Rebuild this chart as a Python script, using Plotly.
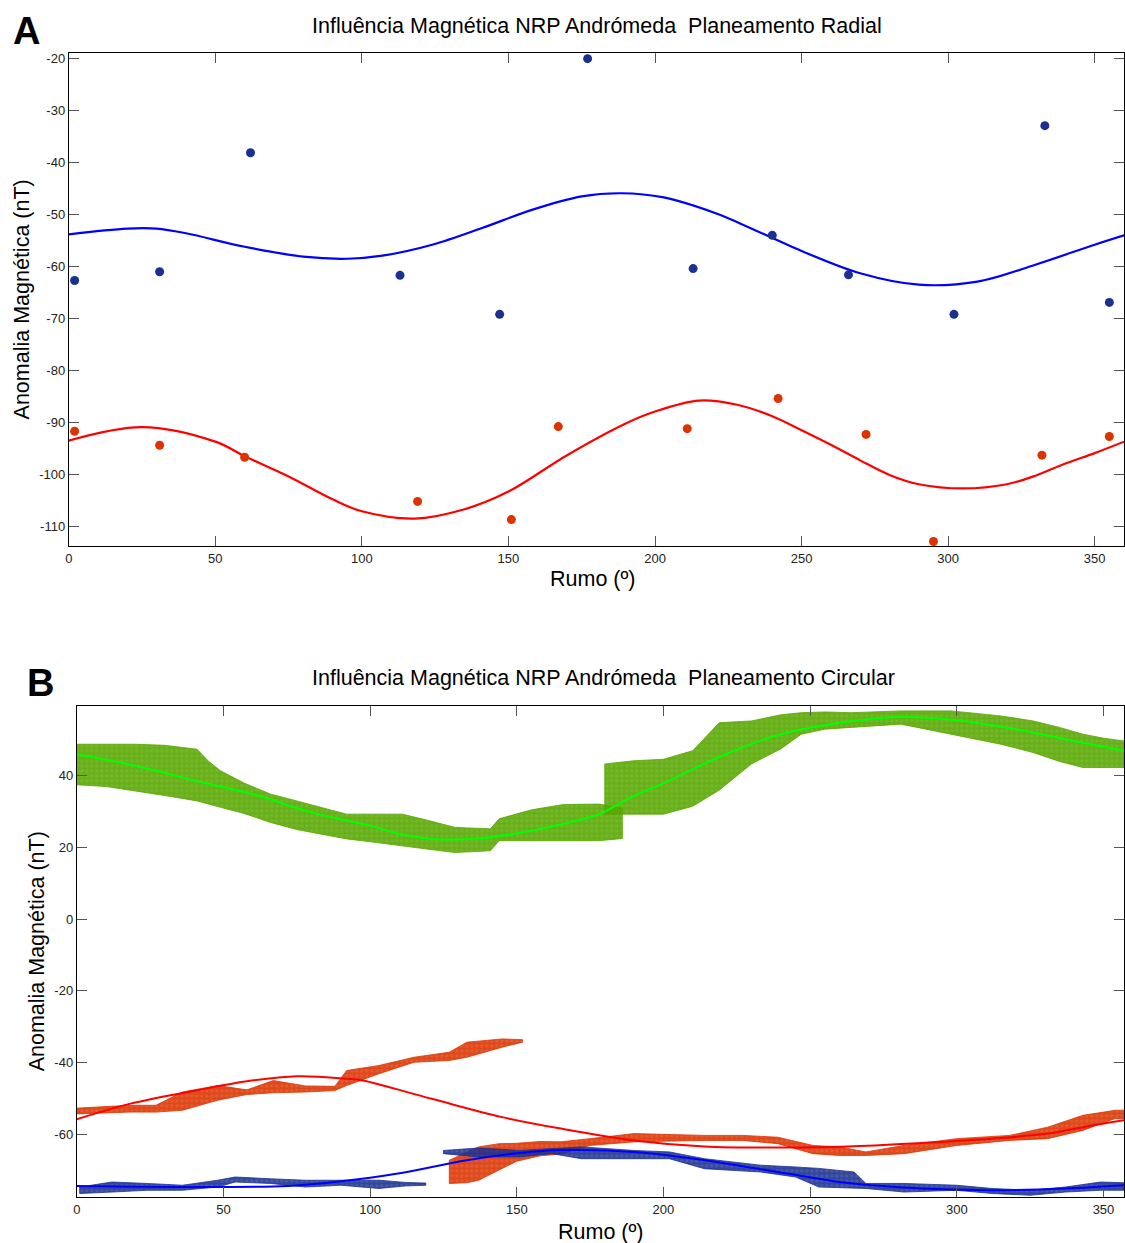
import plotly.graph_objects as go

# ---------------- Panel A data (Planeamento Radial) ----------------
a_blue_x = [2, 31, 62, 113, 147, 177, 213, 240, 266, 302, 333, 355]
a_blue_y = [-62.7, -61.0, -38.1, -61.7, -69.2, -20.0, -60.4, -54.0, -61.6, -69.2, -32.9, -66.9]
a_red_x = [2, 31, 60, 119, 151, 167, 211, 242, 272, 295, 332, 355]
a_red_y = [-91.7, -94.4, -96.7, -105.2, -108.7, -90.8, -91.2, -85.4, -92.3, -112.9, -96.3, -92.7]

a_blue_fit_x = [0, 20, 30, 40, 60, 80, 95, 107, 124, 141, 158, 175, 188.5, 203, 220, 229, 250, 270, 290, 310, 330, 350, 360]
a_blue_fit_y = [-53.8, -52.7, -52.7, -53.6, -56.2, -58.1, -58.5, -57.9, -55.8, -52.6, -49.1, -46.5, -45.9, -46.7, -49.6, -51.7, -57.0, -61.3, -63.5, -62.9, -59.6, -55.8, -54.0]
a_red_fit_x = [0, 25, 50, 60, 75, 90, 100, 118, 135, 150, 170, 190, 200, 215, 228, 240, 250, 260, 270, 280, 290, 305, 320, 330, 340, 350, 360]
a_red_fit_y = [-93.5, -90.9, -93.7, -96.5, -100.4, -104.8, -107.1, -108.5, -106.7, -103.3, -96.3, -90.2, -87.9, -85.8, -86.6, -88.8, -91.5, -94.3, -97.3, -100.1, -101.9, -102.7, -101.9, -100.2, -97.9, -95.9, -93.7]

# ---------------- Panel B data (Planeamento Circular) ----------------
# point clouds given as lower / upper envelopes
g1_x = [0, 10, 20, 30, 41, 45, 49, 57, 66, 75, 83, 92, 101, 111, 120, 129, 141, 144, 155, 166, 178, 186]
g1_hi = [48.8, 48.9, 48.8, 48.5, 47.4, 44.0, 41.4, 38.0, 34.9, 33.0, 31.2, 29.3, 29.3, 29.3, 27.5, 25.6, 25.2, 28.0, 30.5, 32.0, 32.1, 31.0]
g1_lo = [37.5, 37.0, 35.8, 34.5, 33.0, 32.0, 31.2, 29.5, 27.0, 25.0, 23.8, 22.4, 21.5, 20.5, 19.5, 18.6, 19.1, 21.9, 22.0, 21.9, 21.9, 22.5]
g2_x = [180, 190, 200, 210, 219, 230, 240, 247, 255, 264, 281, 298, 315, 326, 335, 343, 350, 357]
g2_hi = [43.3, 44.2, 44.6, 47.0, 54.8, 55.3, 57.0, 57.6, 57.8, 57.6, 58.1, 58.1, 56.7, 55.3, 53.5, 51.6, 50.5, 49.7]
g2_lo = [29.3, 29.3, 29.3, 31.5, 36.0, 43.3, 47.5, 51.6, 53.0, 53.5, 54.4, 51.6, 48.8, 46.5, 44.0, 42.3, 42.3, 42.3]

r1_x = [0, 10, 18, 27, 36, 48, 58, 67, 78, 88, 92, 103, 115, 127, 133, 145, 152]
r1_hi = [-52.7, -52.2, -51.9, -51.9, -48.2, -46.4, -47.6, -45.0, -46.5, -46.6, -42.2, -40.8, -38.5, -37.1, -34.3, -33.4, -33.6]
r1_lo = [-54.3, -54.0, -53.8, -53.8, -53.3, -50.5, -48.9, -48.4, -48.2, -47.8, -46.4, -43.1, -39.9, -39.4, -38.5, -35.7, -34.3]
r2_x = [127, 133, 137, 144, 150, 158, 165, 175, 190, 214, 227, 239, 251, 260, 269, 282, 300, 318, 331, 343, 354, 357]
r2_hi = [-67.2, -65.0, -63.5, -62.6, -62.5, -62.0, -62.1, -61.2, -59.8, -60.3, -60.3, -60.8, -63.1, -63.5, -64.9, -63.1, -61.2, -60.3, -58.0, -54.7, -53.3, -53.3]
r2_lo = [-73.7, -73.5, -72.8, -70.0, -67.5, -66.0, -65.5, -63.1, -62.1, -61.7, -61.7, -62.6, -65.4, -65.9, -65.9, -65.4, -63.1, -61.7, -61.2, -58.9, -55.6, -55.6]

b1_x = [1, 12, 24, 36, 48, 54, 66, 78, 90, 103, 112, 119]
b1_hi = [-74.7, -73.3, -73.7, -74.2, -72.8, -71.9, -72.4, -72.8, -72.8, -72.8, -73.4, -73.6]
b1_lo = [-76.5, -76.1, -75.6, -75.6, -74.7, -73.3, -73.7, -74.7, -74.2, -75.1, -74.4, -74.2]
b2_x = [125, 137, 151, 162, 172, 190, 202, 214, 233, 245, 253, 265, 269, 282, 300, 312, 325, 337, 349, 357]
b2_hi = [-64.5, -63.8, -64.5, -64.0, -63.5, -64.5, -64.9, -66.8, -68.6, -69.1, -69.5, -70.5, -73.7, -73.7, -74.2, -75.1, -75.6, -74.7, -73.3, -73.5]
b2_lo = [-65.4, -66.3, -66.3, -65.4, -66.8, -66.8, -66.8, -69.6, -70.5, -71.9, -74.7, -75.0, -75.1, -76.1, -75.6, -76.5, -77.0, -76.1, -75.6, -75.6]

b_green_fit_x = [0, 20, 43, 60, 80, 100, 111, 121, 138, 155, 166.5, 178, 189, 200.5, 220, 240, 260, 280, 300, 320, 340, 357]
b_green_fit_y = [46.0, 42.8, 38.1, 34.9, 29.8, 26.1, 23.6, 22.4, 22.6, 24.7, 26.7, 29.3, 34.0, 38.1, 45.6, 51.6, 54.8, 56.4, 55.5, 53.0, 49.7, 47.0]
b_red_fit_x = [0, 18, 41, 58, 75, 92, 97.5, 121, 145, 165, 190, 214, 239, 263, 288, 312, 331, 343, 357]
b_red_fit_y = [-55.8, -51.5, -47.7, -45.2, -43.8, -44.5, -45.0, -50.1, -55.2, -58.4, -61.7, -63.4, -63.7, -63.4, -62.4, -61.2, -59.8, -58.0, -56.1]
b_blue_fit_x = [0, 48, 72, 90, 109, 133, 151, 165, 190, 214, 239, 263, 288, 312, 337, 357]
b_blue_fit_y = [-74.4, -74.7, -74.4, -73.1, -71.0, -67.2, -65.2, -64.4, -64.9, -67.2, -70.5, -73.6, -75.1, -75.6, -75.1, -74.2]

x_ticks = [0, 50, 100, 150, 200, 250, 300, 350]
a_y_ticks = [-20, -30, -40, -50, -60, -70, -80, -90, -100, -110]
b_y_ticks = [40, 20, 0, -20, -40, -60]

# ---------------- styles ----------------
FONT = "Liberation Sans, Arial, sans-serif"
NAVY = "#1b3191"
ORANGE = "#dc3300"
GREEN = "#58a700"
SOFT = {NAVY: "rgba(27,49,145,0.8)", ORANGE: "rgba(220,51,0,0.8)", GREEN: "rgba(88,167,0,0.82)"}

fig = go.Figure()

# Panel A
fig.add_trace(go.Scatter(x=a_blue_fit_x, y=a_blue_fit_y, mode="lines", line=dict(color="#0000ff", width=2.2, shape="spline"), xaxis="x", yaxis="y"))
fig.add_trace(go.Scatter(x=a_red_fit_x, y=a_red_fit_y, mode="lines", line=dict(color="#ff0000", width=2.2, shape="spline"), xaxis="x", yaxis="y"))
fig.add_trace(go.Scatter(x=a_blue_x, y=a_blue_y, mode="markers", marker=dict(color=NAVY, size=9), xaxis="x", yaxis="y"))
fig.add_trace(go.Scatter(x=a_red_x, y=a_red_y, mode="markers", marker=dict(color=ORANGE, size=9), xaxis="x", yaxis="y"))


def cloud(xs, lo, hi, color):
    px = list(xs) + list(xs)[::-1] + [xs[0]]
    py = list(hi) + list(lo)[::-1] + [hi[0]]
    return go.Scatter(
        x=px, y=py, mode="lines", fill="toself",
        line=dict(color=SOFT[color], width=1),
        fillcolor=SOFT[color],
        fillpattern=dict(shape="+", fgcolor=color, size=5, solidity=0.6, fillmode="overlay"),
        xaxis="x2", yaxis="y2", hoverinfo="skip",
    )


for xs, lo, hi, c in [
    (g1_x, g1_lo, g1_hi, GREEN), (g2_x, g2_lo, g2_hi, GREEN),
    (r1_x, r1_lo, r1_hi, ORANGE), (r2_x, r2_lo, r2_hi, ORANGE),
    (b1_x, b1_lo, b1_hi, NAVY), (b2_x, b2_lo, b2_hi, NAVY),
]:
    fig.add_trace(cloud(xs, lo, hi, c))

fig.add_trace(go.Scatter(x=b_green_fit_x, y=b_green_fit_y, mode="lines", line=dict(color="#00ff00", width=2, shape="spline"), xaxis="x2", yaxis="y2"))
fig.add_trace(go.Scatter(x=b_red_fit_x, y=b_red_fit_y, mode="lines", line=dict(color="#ff0000", width=2, shape="spline"), xaxis="x2", yaxis="y2"))
fig.add_trace(go.Scatter(x=b_blue_fit_x, y=b_blue_fit_y, mode="lines", line=dict(color="#0000ff", width=2, shape="spline"), xaxis="x2", yaxis="y2"))

W, H = 1125, 1243

axis_common = dict(
    showgrid=False, zeroline=False, showline=True, linecolor="black", linewidth=1,
    mirror="ticks", ticks="inside", ticklen=10, tickwidth=1, tickcolor="#555555",
    tickfont=dict(family=FONT, size=13, color="#222222"),
)

fig.update_layout(
    width=W, height=H,
    margin=dict(l=0, r=0, t=0, b=0),
    paper_bgcolor="white", plot_bgcolor="white",
    showlegend=False,
    xaxis=dict(domain=[65 / W, 1124 / W], range=[0, 360], tickvals=x_ticks,
               ticktext=[str(v) for v in x_ticks], anchor="y", **axis_common),
    yaxis=dict(domain=[(H - 545) / H, (H - 51) / H], range=[-113.8, -18.9], tickvals=a_y_ticks,
               ticktext=[str(v) for v in a_y_ticks], anchor="x", **axis_common),
    xaxis2=dict(domain=[73 / W, 1124 / W], range=[0, 357], tickvals=x_ticks,
                ticktext=[str(v) for v in x_ticks], anchor="y2", **axis_common),
    yaxis2=dict(domain=[(H - 1197) / H, (H - 705) / H], range=[-77.5, 59.5], tickvals=b_y_ticks,
                ticktext=[str(v) for v in b_y_ticks], anchor="x2", **axis_common),
)


def ann(text, xp, yp, size, bold=False, angle=0):
    fig.add_annotation(
        text=f"<b>{text}</b>" if bold else text,
        x=xp / W, y=(H - yp) / H, xref="paper", yref="paper",
        xanchor="center", yanchor="middle", showarrow=False, textangle=angle,
        font=dict(family=FONT, size=size, color="black"),
    )


ann("Influência Magnética NRP Andrómeda  Planeamento Radial", 595, 24, 21.5)
ann("Influência Magnética NRP Andrómeda  Planeamento Circular", 602, 677, 21.5)
ann("A", 23, 29, 38, bold=True)
ann("B", 37, 682, 38, bold=True)
ann("Anomalia Magnética (nT)", 18, 298, 21.5, angle=-90)
ann("Anomalia Magnética (nT)", 34, 951, 21.5, angle=-90)
ann("Rumo (º)", 591, 578, 21.5)
ann("Rumo (º)", 599, 1232, 21.5)

fig.write_html("out.html")
